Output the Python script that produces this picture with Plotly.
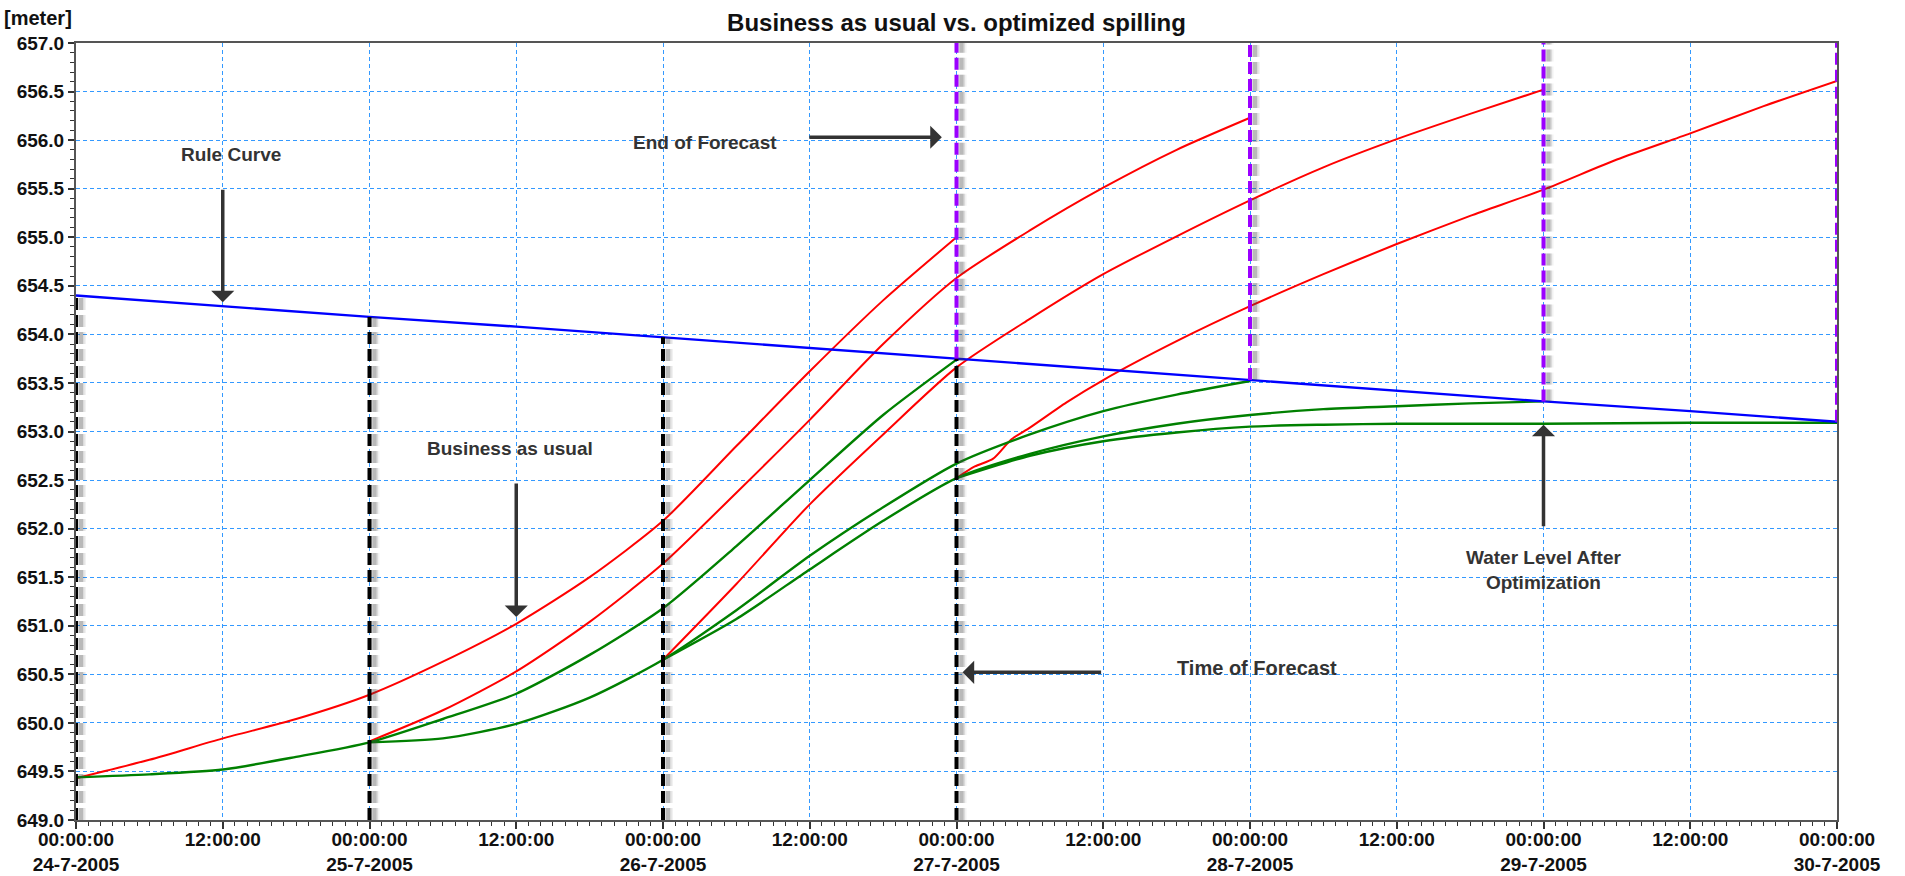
import plotly.graph_objects as go
from datetime import datetime, timedelta

START = datetime(2005, 7, 24)

# Rule curve: hours since 24-7-2005 00:00, level [m]
rule_hours = [0, 12, 24, 36, 48, 60, 72, 84, 96, 108, 120, 132, 144]
rule_level = [654.40, 654.29, 654.18, 654.08, 653.97, 653.86, 653.75,
              653.64, 653.53, 653.42, 653.31, 653.21, 653.10]

# Business-as-usual forecasts (one per forecast time)
bau1_hours = [0, 6, 12, 18, 24, 30, 36, 42, 48, 54, 60, 66, 72]
bau1_level = [649.43, 649.62, 649.84, 650.04, 650.29, 650.63, 651.02, 651.50,
              652.08, 652.85, 653.62, 654.35, 655.00]

bau2_hours = [24, 30, 36, 42, 48, 54, 60, 66, 72, 78, 84, 90, 96]
bau2_level = [649.81, 650.13, 650.53, 651.04, 651.64, 652.37, 653.12, 653.90,
              654.58, 655.07, 655.51, 655.90, 656.23]

bau3_hours = [48, 54, 60, 66, 72, 78, 84, 90, 96, 102, 108, 114, 120]
bau3_level = [650.65, 651.43, 652.25, 652.97, 653.66, 654.16, 654.62, 655.01,
              655.38, 655.72, 656.01, 656.27, 656.52]

bau4_hours = [72, 73.5, 75, 76.5, 78, 81, 84, 90, 96, 102, 108, 114, 120,
              126, 132, 138, 144]
bau4_level = [652.52, 652.64, 652.72, 652.92, 653.04, 653.30, 653.53, 653.93,
              654.29, 654.62, 654.93, 655.22, 655.49, 655.80, 656.07, 656.35,
              656.61]

# Optimized spilling (one per forecast time)
opt1_hours = [0, 6, 12, 18, 24, 30, 36, 42, 48, 54, 60, 66, 72]
opt1_level = [649.44, 649.47, 649.52, 649.65, 649.80, 650.04, 650.30, 650.70,
              651.18, 651.82, 652.50, 653.17, 653.74]

opt2_hours = [24, 30, 36, 42, 48, 54, 60, 66, 72, 78, 84, 90, 96]
opt2_level = [649.80, 649.84, 649.99, 650.26, 650.65, 651.16, 651.72, 652.22,
              652.67, 652.97, 653.21, 653.38, 653.52]

opt3_hours = [48, 54, 60, 66, 72, 78, 84, 90, 96, 102, 108, 114, 120]
opt3_level = [650.65, 651.07, 651.58, 652.08, 652.52, 652.77, 652.95, 653.08,
              653.17, 653.23, 653.26, 653.29, 653.31]

opt4_hours = [72, 78, 84, 90, 96, 102, 108, 120, 132, 144]
opt4_level = [652.52, 652.75, 652.90, 652.99, 653.05, 653.07, 653.08, 653.08,
              653.09, 653.09]

forecast_hours = [0, 24, 48, 72]
horizon_hours = 72

y_ticks = [649.0 + 0.5 * i for i in range(17)]
x_tick_hours = list(range(0, 145, 12))


def to_time(hours):
    return [START + timedelta(hours=h) for h in hours]


def at(h):
    return START + timedelta(hours=h)


def tick_label(h):
    d = at(h)
    if d.hour == 0:
        return f"{d:%H:%M:%S}<br>{d.day}-{d.month}-{d.year}"
    return f"{d:%H:%M:%S}"


FONT = "Liberation Sans, Arial, sans-serif"
RED, GREEN, BLUE = "#ff0000", "#008000", "#0000ff"
PURPLE = "#9b00ff"

fig = go.Figure()

for hrs, lev in [(bau1_hours, bau1_level), (bau2_hours, bau2_level),
                 (bau3_hours, bau3_level), (bau4_hours, bau4_level)]:
    fig.add_trace(go.Scatter(x=to_time(hrs), y=lev, mode="lines",
                             line=dict(color=RED, width=2, shape="spline",
                                       smoothing=0.7),
                             showlegend=False))

for hrs, lev in [(opt1_hours, opt1_level), (opt2_hours, opt2_level),
                 (opt3_hours, opt3_level), (opt4_hours, opt4_level)]:
    fig.add_trace(go.Scatter(x=to_time(hrs), y=lev, mode="lines",
                             line=dict(color=GREEN, width=2.4, shape="spline",
                                       smoothing=0.7),
                             showlegend=False))

fig.add_trace(go.Scatter(x=to_time(rule_hours), y=rule_level, mode="lines",
                         line=dict(color=BLUE, width=2.4), showlegend=False))

DASH = "12px,5px"


def marker_line(hour, y0, y1, color):
    t = at(hour)
    # soft drop shadow, offset a few pixels to the right
    for w, op in [(10, 0.07), (7, 0.12), (4, 0.22)]:
        fig.add_shape(type="line", xref="x", yref="y", xsizemode="pixel",
                      xanchor=t, x0=5, x1=5, y0=y0, y1=y1, layer="above",
                      opacity=op,
                      line=dict(color="#444444", width=w, dash=DASH))
    fig.add_shape(type="line", xref="x", yref="y", x0=t, x1=t, y0=y0, y1=y1,
                  layer="above", line=dict(color=color, width=4, dash=DASH))


rule_at = dict(zip(rule_hours, rule_level))
for h in forecast_hours:
    marker_line(h, 649.0, rule_at[h], "#000000")
    end = h + horizon_hours
    marker_line(end, rule_at[end], 657.0, PURPLE)

ARROW = dict(showarrow=True, arrowhead=1, arrowsize=1.1, arrowwidth=3.5,
             arrowcolor="#333333", text="", standoff=0)
LABEL = dict(showarrow=False, font=dict(family=FONT, size=19, color="#333333",
                                        weight="bold"))

annotations = [
    dict(x=at(12), y=654.33, ax=0, ay=-114, **ARROW),
    dict(x=at(12.7), y=655.85, text="Rule Curve", **LABEL),
    dict(x=at(70.8), y=656.03, ax=-134, ay=0, **ARROW),
    dict(x=at(51.4), y=655.98, text="End of Forecast", **LABEL),
    dict(x=at(36), y=651.09, ax=0, ay=-135, **ARROW),
    dict(x=at(35.5), y=652.83, text="Business as usual", **LABEL),
    dict(x=at(72.5), y=650.52, ax=140, ay=0, **ARROW),
    dict(x=at(96.6), y=650.56, text="Time of Forecast",
         **{**LABEL, "font": dict(family=FONT, size=20, color="#333333",
                                  weight="bold")}),
    dict(x=at(120), y=653.07, ax=0, ay=103, **ARROW),
    dict(x=at(120), y=651.57, text="Water Level After<br>Optimization", **LABEL),
    dict(xref="paper", yref="paper", x=-0.0216, y=1.0, yshift=25,
         xanchor="center", yanchor="middle", showarrow=False, text="[meter]",
         font=dict(family=FONT, size=20, color="#111111", weight="bold")),
]

GRID = "#3399ff"
TICKFONT = dict(family=FONT, size=19, color="#111111", weight="bold")
fig.update_layout(
    width=1905, height=876,
    margin=dict(l=76, r=68, t=43, b=56, autoexpand=False),
    paper_bgcolor="white", plot_bgcolor="white",
    title=dict(text="Business as usual vs. optimized spilling",
               x=0.5, xref="paper", y=1 - 23 / 876, yref="container",
               xanchor="center", yanchor="middle",
               font=dict(family=FONT, size=24, color="#111111", weight="bold")),
    annotations=annotations,
    xaxis=dict(
        type="date",
        range=[at(0), at(144)],
        tickmode="array",
        tickvals=to_time(x_tick_hours),
        ticktext=[tick_label(h) for h in x_tick_hours],
        tickfont=TICKFONT,
        ticks="outside", ticklen=7, tickwidth=1.5, tickcolor="#333333",
        ticklabelstandoff=-6,
        minor=dict(dtick=3600000, tick0=at(0), ticks="outside", ticklen=4,
                   tickwidth=1, tickcolor="#333333", showgrid=False),
        showgrid=True, gridcolor=GRID, gridwidth=1, griddash="4px,3px",
        showline=True, linecolor="#555555", linewidth=2, mirror=True,
        zeroline=False, automargin=False,
    ),
    yaxis=dict(
        range=[649.0, 657.0],
        tickmode="array",
        tickvals=y_ticks,
        ticktext=[f"{v:.1f}" for v in y_ticks],
        tickfont=TICKFONT,
        ticks="outside", ticklen=6, tickwidth=1.5, tickcolor="#333333",
        minor=dict(dtick=0.1, tick0=649.0, ticks="outside", ticklen=4,
                   tickwidth=1, tickcolor="#333333", showgrid=False),
        showgrid=True, gridcolor=GRID, gridwidth=1, griddash="4px,3px",
        showline=True, linecolor="#555555", linewidth=2, mirror=True,
        zeroline=False, automargin=False,
    ),
)

fig.write_html("out.html", config={"displayModeBar": False})
